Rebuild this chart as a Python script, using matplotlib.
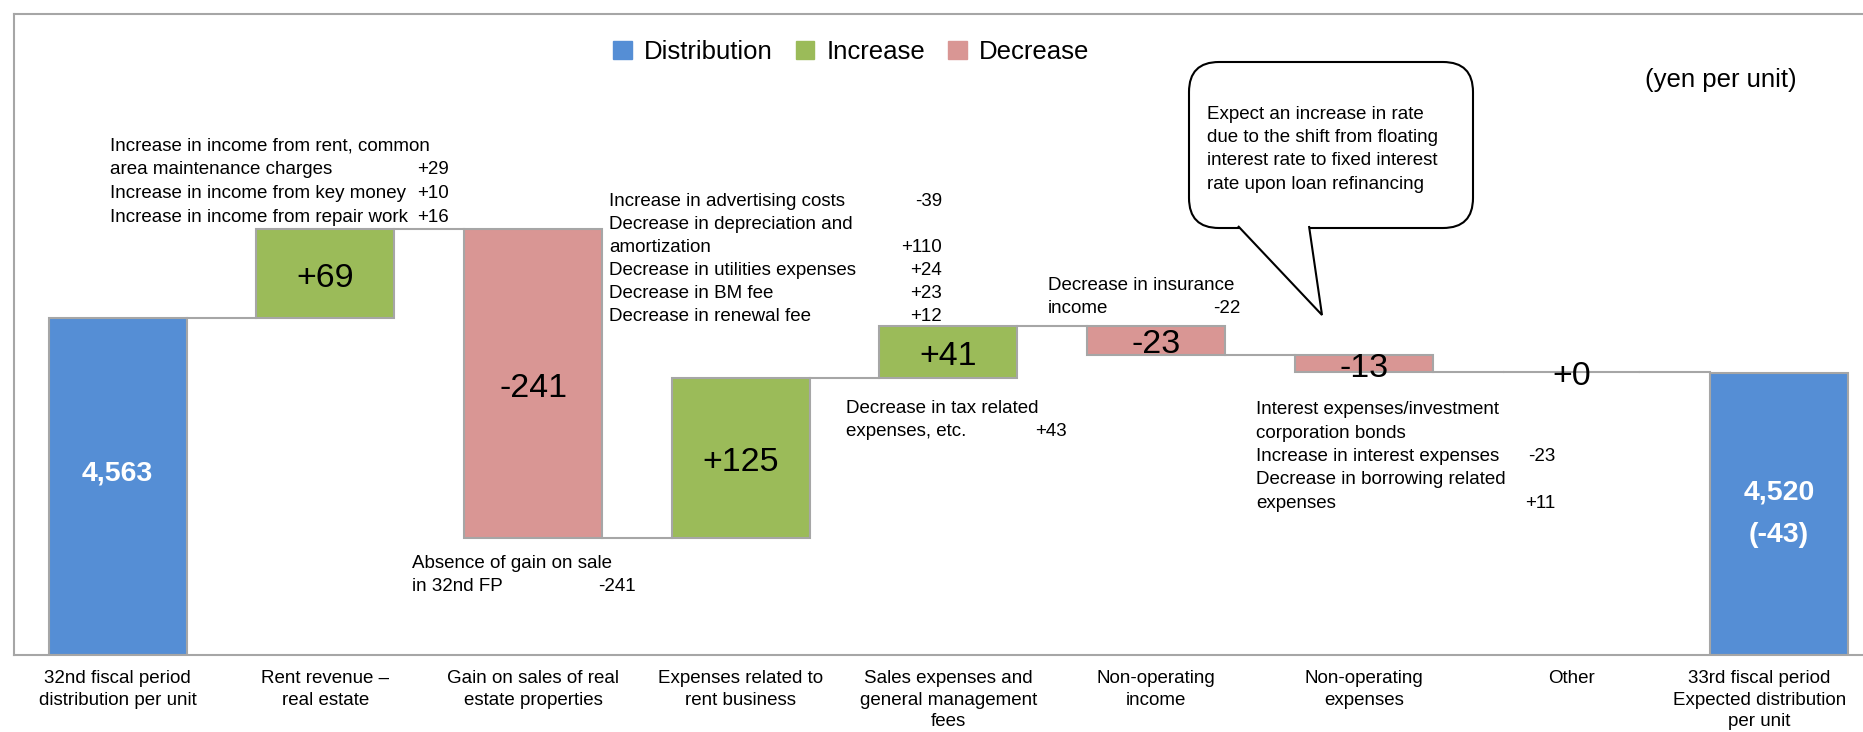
import matplotlib
matplotlib.use("Agg")
import matplotlib.pyplot as plt
from matplotlib.patches import Patch, FancyBboxPatch, Polygon
from matplotlib.transforms import IdentityTransform, ScaledTranslation

plt.rcParams["font.family"] = ["Liberation Sans", "DejaVu Sans"]

# ---------- DATA ----------
categories = [
    "32nd fiscal period\ndistribution per unit",
    "Rent revenue –\nreal estate",
    "Gain on sales of real\nestate properties",
    "Expenses related to\nrent business",
    "Sales expenses and\ngeneral management\nfees",
    "Non-operating\nincome",
    "Non-operating\nexpenses",
    "Other",
    "33rd fiscal period\nExpected distribution\nper unit",
]
start_value = 4563
changes = [69, -241, 125, 41, -23, -13, 0]
change_labels = ["+69", "-241", "+125", "+41", "-23", "-13", "+0"]
end_value = 4520
end_diff = "(-43)"

notes_rent = [
    ("Increase in income from rent, common", ""),
    ("area maintenance charges", "+29"),
    ("Increase in income from key money", "+10"),
    ("Increase in income from repair work", "+16"),
]
notes_gain = [("Absence of gain on sale", ""), ("in 32nd FP", "-241")]
notes_expenses = [
    ("Increase in advertising costs", "-39"),
    ("Decrease in depreciation and", ""),
    ("amortization", "+110"),
    ("Decrease in utilities expenses", "+24"),
    ("Decrease in BM fee", "+23"),
    ("Decrease in renewal fee", "+12"),
]
notes_sga = [("Decrease in tax related", ""), ("expenses, etc.", "+43")]
notes_nonop_income = [("Decrease in insurance", ""), ("income", "-22")]
notes_nonop_exp = [
    ("Interest expenses/investment", ""),
    ("corporation bonds", ""),
    ("Increase in interest expenses", "-23"),
    ("Decrease in borrowing related", ""),
    ("expenses", "+11"),
]
callout_lines = [
    "Expect an increase in rate",
    "due to the shift from floating",
    "interest rate to fixed interest",
    "rate upon loan refinancing",
]

BLUE = "#558ED5"
GREEN = "#9BBB59"
RED = "#D99694"
EDGE = "#A6A6A6"
W, H = 1863, 732

# ---------- WATERFALL ----------
bottoms, heights, colors = [4300], [start_value - 4300], [BLUE]
level = start_value
levels = [level]
for c in changes:
    if c >= 0:
        bottoms.append(level)
        heights.append(c)
        colors.append(GREEN)
    else:
        bottoms.append(level + c)
        heights.append(-c)
        colors.append(RED)
    level += c
    levels.append(level)
bottoms.append(4300)
heights.append(end_value - 4300)
colors.append(BLUE)

fig = plt.figure(figsize=(W / 100, H / 100), dpi=100)
ax = fig.add_axes([13.8 / W, 1 - 655 / H, (1883 - 13.8) / W, (655 - 14) / H])

x = range(len(categories))
bw = 0.664
ax.bar(x, heights, bottom=bottoms, width=bw, color=colors,
       edgecolor=EDGE, linewidth=1.5, zorder=2)

# connectors
for i in range(len(levels)):
    ax.plot([i + bw / 2, i + 1 - bw / 2], [levels[i], levels[i]],
            color=EDGE, linewidth=1.5, zorder=1)

ax.set_xlim(-0.5, 8.5)
ax.set_ylim(4300, 4800)
ax.set_yticks([])
ax.set_xticks(list(x))
ax.set_xticklabels(categories, fontsize=13.5, linespacing=1.33)
ax.tick_params(axis="x", length=0, pad=11)
# last label sits a bit left so it stays inside the picture
lab = ax.get_xticklabels()[-1]
lab.set_transform(lab.get_transform()
                  + ScaledTranslation(-0.2, 0, fig.dpi_scale_trans))
for s in ["left", "top", "bottom", "right"]:
    ax.spines[s].set_color(EDGE)
    ax.spines[s].set_linewidth(1.5)

# value labels
ax.text(0, (4300 + start_value) / 2 + 10, f"{start_value:,}", ha="center",
        va="center", color="white", fontsize=20.5, fontweight="bold")
for i, lab in enumerate(change_labels, start=1):
    ax.annotate(lab, (i, bottoms[i] + heights[i] / 2), xytext=(0, -3.4),
                textcoords="offset points", ha="center", va="center",
                fontsize=24.5, zorder=3)
last = len(categories) - 1
ax.text(last, (4300 + end_value) / 2, f"{end_value:,}\n{end_diff}", ha="center",
        va="center", color="white", fontsize=20.5, fontweight="bold",
        linespacing=1.8)


# ---------- NOTES ----------
def px(xp, yp):
    return xp / W, 1 - (yp + 2.4) / H


def note_block(x_left, x_right, y_top, rows, step=23.3):
    for k, (text, val) in enumerate(rows):
        yy = y_top + k * step
        fig.text(*px(x_left, yy), text, ha="left", va="center", fontsize=13.5)
        if val:
            fig.text(*px(x_right, yy), val, ha="right", va="center",
                     fontsize=13.5)


note_block(110.5, 449, 144, notes_rent, step=23.6)
note_block(412, 636, 561, notes_gain)
note_block(609, 942, 199.6, notes_expenses, step=22.9)
note_block(846, 1067, 406, notes_sga)
note_block(1048, 1241, 283, notes_nonop_income)
note_block(1256, 1555, 407.5, notes_nonop_exp)

# callout
box = FancyBboxPatch((1189, H - 228), 284, 166,
                     boxstyle="round,pad=0,rounding_size=30",
                     transform=IdentityTransform(), facecolor="white",
                     edgecolor="black", linewidth=1.5)
fig.patches.append(box)
tail = Polygon([(1238, H - 226), (1322, H - 315), (1309, H - 226)],
               closed=False, transform=IdentityTransform(),
               facecolor="white", edgecolor="black", linewidth=1.5)
fig.patches.append(tail)
for k, line in enumerate(callout_lines):
    fig.text(*px(1207, 111.7 + k * 23.4), line, ha="left", va="center",
             fontsize=13.5)

fig.text(*px(1645, 78), "(yen per unit)", ha="left", va="center", fontsize=18.5)

handles = [Patch(color=BLUE, label="Distribution"),
           Patch(color=GREEN, label="Increase"),
           Patch(color=RED, label="Decrease")]
fig.legend(handles=handles, loc="center", bbox_to_anchor=(0.457, 0.9287),
           ncol=3, frameon=False, fontsize=18.5, handlelength=0.72,
           handleheight=0.72, handletextpad=0.47, columnspacing=0.9)

fig.savefig("out.png", dpi=100)
